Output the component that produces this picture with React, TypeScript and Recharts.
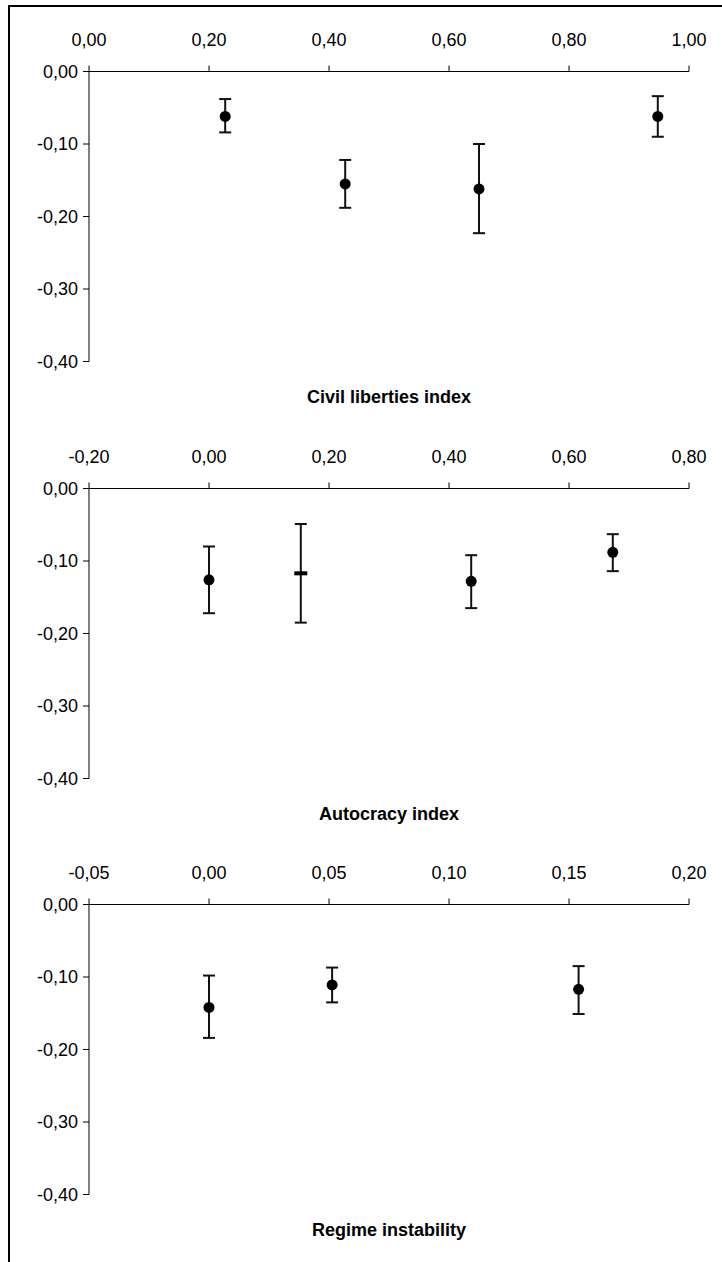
import { ScatterChart, Scatter, XAxis, YAxis, ErrorBar } from "recharts";

const yTicks = [-0.4, -0.3, -0.2, -0.1, 0];

// Civil liberties index
const civilX = [0.227, 0.427, 0.65, 0.948];
const civilY = [-0.062, -0.155, -0.162, -0.062];
const civilLow = [-0.084, -0.188, -0.223, -0.09];
const civilHigh = [-0.038, -0.122, -0.1, -0.034];
const civilMarkers = ["circle", "circle", "circle", "circle"];
const civilTicks = [0, 0.2, 0.4, 0.6, 0.8, 1.0];

// Autocracy index
const autocracyX = [0.0, 0.153, 0.437, 0.673];
const autocracyY = [-0.126, -0.117, -0.128, -0.088];
const autocracyLow = [-0.172, -0.185, -0.165, -0.114];
const autocracyHigh = [-0.08, -0.049, -0.092, -0.063];
const autocracyMarkers = ["circle", "dash", "circle", "circle"];
const autocracyTicks = [-0.2, 0, 0.2, 0.4, 0.6, 0.8];

// Regime instability
const regimeX = [0.0, 0.0513, 0.154];
const regimeY = [-0.142, -0.111, -0.117];
const regimeLow = [-0.184, -0.135, -0.151];
const regimeHigh = [-0.098, -0.087, -0.085];
const regimeMarkers = ["circle", "circle", "circle"];
const regimeTicks = [-0.05, 0, 0.05, 0.1, 0.15, 0.2];

const FONT = "'Liberation Sans', Arial, sans-serif";
const fmt = (v: number) => v.toFixed(2).replace(".", ",");

function build(xs: number[], ys: number[], lo: number[], hi: number[], markers: string[]) {
  return xs.map((x, i) => ({
    x,
    y: ys[i],
    err: [ys[i] - lo[i], hi[i] - ys[i]],
    marker: markers[i],
  }));
}

function Marker(props: any) {
  const { cx, cy, payload } = props;
  if (payload.marker === "dash") {
    return <rect x={cx - 6.5} y={cy - 2} width={13} height={4} fill="#000" />;
  }
  return <circle cx={cx} cy={cy} r={5.5} fill="#000" />;
}

interface PanelProps {
  top: number;
  title: string;
  ticks: number[];
  data: { x: number; y: number; err: number[]; marker: string }[];
}

function Panel({ top, title, ticks, data }: PanelProps) {
  const tickStyle = { fill: "#000", fontSize: 18, fontFamily: FONT };
  return (
    <>
      <div style={{ position: "absolute", left: 0, top }}>
        <ScatterChart width={722} height={416} margin={{ top: 41.5, right: 33, bottom: 54.5, left: 39 }}>
          <XAxis
            type="number"
            dataKey="x"
            orientation="top"
            domain={[ticks[0], ticks[ticks.length - 1]]}
            ticks={ticks}
            interval={0}
            height={30}
            tickSize={6}
            tickMargin={20}
            tickFormatter={fmt}
            tick={tickStyle}
            stroke="#000"
            allowDataOverflow
          />
          <YAxis
            type="number"
            dataKey="y"
            domain={[-0.4, 0]}
            ticks={yTicks}
            interval={0}
            width={50}
            tickSize={6}
            tickMargin={5}
            tickFormatter={fmt}
            tick={tickStyle}
            stroke="#000"
            allowDataOverflow
          />
          <Scatter data={data} shape={<Marker />} isAnimationActive={false}>
            <ErrorBar dataKey="err" direction="y" width={6} stroke="#111" strokeWidth={2} isAnimationActive={false} />
          </Scatter>
        </ScatterChart>
      </div>
      <div
        style={{
          position: "absolute",
          left: 89,
          width: 600,
          top: top + 387,
          lineHeight: "20px",
          textAlign: "center",
          fontFamily: FONT,
          fontWeight: "bold",
          fontSize: 18,
          color: "#000",
        }}
      >
        {title}
      </div>
    </>
  );
}

export default function App() {
  return (
    <div
      style={{
        position: "absolute",
        left: 0,
        top: 0,
        width: 722,
        height: 1262,
        overflow: "hidden",
        background: "#fff",
      }}
    >
      <div
        style={{
          position: "absolute",
          left: 8,
          top: 5,
          width: 800,
          height: 1320,
          border: "2px solid #000",
          boxSizing: "border-box",
        }}
      />
      <Panel top={0} title="Civil liberties index" ticks={civilTicks} data={build(civilX, civilY, civilLow, civilHigh, civilMarkers)} />
      <Panel top={417} title="Autocracy index" ticks={autocracyTicks} data={build(autocracyX, autocracyY, autocracyLow, autocracyHigh, autocracyMarkers)} />
      <Panel top={833} title="Regime instability" ticks={regimeTicks} data={build(regimeX, regimeY, regimeLow, regimeHigh, regimeMarkers)} />
    </div>
  );
}
